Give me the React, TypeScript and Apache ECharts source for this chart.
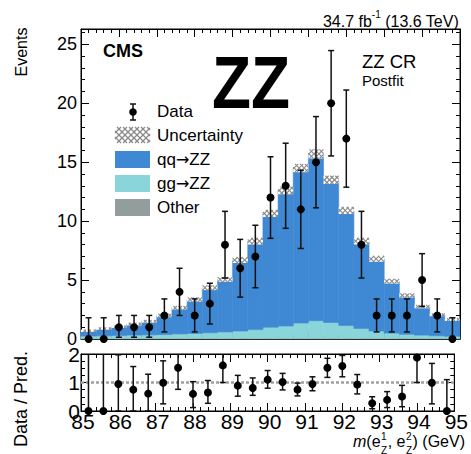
import React, { useEffect, useRef } from "react";
import * as echarts from "echarts";

// ---- data ----
const binCenters = [85.2, 85.6, 86.0, 86.4, 86.8, 87.2, 87.6, 88.0, 88.4, 88.8, 89.2, 89.6, 90.0, 90.4, 90.8, 91.2, 91.6, 92.0, 92.4, 92.8, 93.2, 93.6, 94.0, 94.4, 94.8];
const binHalfWidth = 0.2;
const qqZZ = [0.45, 0.61, 0.74, 0.94, 1.15, 1.62, 2.22, 2.88, 3.82, 4.45, 6.03, 7.5, 9.65, 11.5, 13.15, 14.15, 12.1, 9.75, 7.4, 6.13, 4.4, 3.3, 2.42, 1.78, 1.42];
const ggZZ = [0.2, 0.22, 0.25, 0.28, 0.3, 0.33, 0.38, 0.42, 0.48, 0.55, 0.62, 0.75, 0.95, 1.05, 1.3, 1.5, 1.35, 1.1, 0.85, 0.62, 0.45, 0.35, 0.28, 0.22, 0.18];
const other = [0.05, 0.05, 0.05, 0.05, 0.05, 0.05, 0.05, 0.05, 0.05, 0.05, 0.05, 0.05, 0.05, 0.05, 0.05, 0.05, 0.05, 0.05, 0.05, 0.05, 0.05, 0.05, 0.05, 0.05, 0.05];
const uncertainty = [0.1, 0.1, 0.1, 0.12, 0.12, 0.15, 0.15, 0.18, 0.2, 0.2, 0.25, 0.28, 0.3, 0.32, 0.35, 0.38, 0.35, 0.3, 0.28, 0.25, 0.2, 0.18, 0.15, 0.12, 0.12];
const dataCounts = [0, 0, 1, 1, 1, 2, 4, 2, 3, 8, 6, 7, 12, 13, 11, 15, 20, 17, 8, 2, 2, 2, 5, 2, 0];
const dataLow = [0, 0, 0.15, 0.15, 0.15, 0.6, 2.0, 0.6, 1.27, 5.17, 3.55, 4.35, 8.54, 9.39, 7.68, 11.13, 15.53, 12.88, 5.17, 0.6, 0.6, 0.6, 2.76, 0.6, 0];
const dataHigh = [1.8, 1.8, 2.0, 2.0, 2.0, 3.4, 6.0, 3.4, 4.73, 10.83, 8.45, 9.65, 15.46, 16.61, 14.32, 18.87, 24.47, 21.12, 10.83, 3.4, 3.4, 3.4, 7.24, 3.4, 1.8];
const ratio = [0, 0, 0.95, 0.75, 0.61, 0.99, 1.52, 0.6, 0.65, 1.6, 0.89, 0.81, 1.1, 1.02, 0.75, 0.95, 1.52, 1.58, 0.93, 0.27, 0.39, 0.51, 1.88, 0.99, 0];
const ratioLow = [0, 0, 0, 0, 0, 0.25, 0.76, 0.12, 0.27, 1.0, 0.52, 0.55, 0.8, 0.74, 0.53, 0.71, 1.18, 1.2, 0.6, 0.08, 0.12, 0.15, 1.0, 0.25, 0];
const ratioHigh = [2.6, 2.6, 1.97, 1.56, 1.29, 1.76, 2.28, 1.03, 1.07, 2.15, 1.25, 1.16, 1.42, 1.32, 0.98, 1.2, 1.85, 1.95, 1.28, 0.5, 0.68, 0.9, 2.6, 1.67, 1.1];
const xTicks = { min: 85, max: 95, interval: 1 };
const yMainTicks = { min: 0, max: 26.3, interval: 5 };
const yRatioTicks = { min: 0, max: 2, interval: 1 };

const FONT = '"Liberation Sans", Arial, Helvetica, sans-serif';
const ARROW_FONT = '"DejaVu Sans", sans-serif';
const C_QQ = "#3f88d4";
const C_GG = "#89d5d9";
const C_OTHER = "#939d9c";
const C_HATCH = "#8a8a8a";

function hatchSegments(L: number, T: number, R: number, B: number, step: number) {
  const h = B - T;
  const segs: number[][] = [];
  if (h <= 0 || R <= L) return segs;
  const clip = (xa: number, ya: number, xb: number, yb: number) => {
    const dx = xb - xa;
    let t0 = 0, t1 = 1;
    const ta = (L - xa) / dx, tb = (R - xa) / dx;
    t0 = Math.max(t0, Math.min(ta, tb));
    t1 = Math.min(t1, Math.max(ta, tb));
    if (t1 <= t0) return;
    segs.push([xa + dx * t0, ya + (yb - ya) * t0, xa + dx * t1, ya + (yb - ya) * t1]);
  };
  for (let a = L - h; a <= R; a += step) {
    clip(a, T, a + h, B);
    clip(a + h, T, a, B);
  }
  return segs;
}

let measureCtx: CanvasRenderingContext2D | null = null;
function tw(text: string, size: number, weight = "normal", style = "normal") {
  if (!measureCtx) measureCtx = document.createElement("canvas").getContext("2d");
  if (!measureCtx) return text.length * size * 0.55;
  measureCtx.font = `${style} ${weight} ${size}px ${FONT}`;
  return measureCtx.measureText(text).width;
}

function txt(x: number, y: number, text: string, size: number, extra: any = {}, styleExtra: any = {}) {
  return {
    type: "text",
    x,
    y,
    silent: true,
    ...extra,
    style: {
      text,
      fontSize: size,
      fontFamily: FONT,
      fill: "#000",
      align: "left",
      verticalAlign: "middle",
      ...styleExtra,
    },
  };
}

function arrowLabel(x: number, y: number, a: string, b: string) {
  return txt(x, y, `{t|${a}}{r|\u2192}{t|${b}}`, 17, {}, {
    rich: {
      t: { fontSize: 17, fontFamily: FONT, fill: "#000" },
      r: { fontSize: 16, fontFamily: ARROW_FONT, fill: "#000" },
    },
  });
}

export default function App() {
  const ref = useRef<HTMLDivElement>(null);

  useEffect(() => {
    if (!ref.current) return;
    const chart = echarts.init(ref.current, undefined, { renderer: "svg" });

    const n = binCenters.length;
    const layerOther: number[][] = [];
    const layerGG: number[][] = [];
    const layerQQ: number[][] = [];
    const hatchData: number[][] = [];
    for (let i = 0; i < n; i++) {
      const x0 = binCenters[i] - binHalfWidth;
      const x1 = binCenters[i] + binHalfWidth;
      const b0 = 0;
      const b1 = b0 + other[i];
      const b2 = b1 + ggZZ[i];
      const b3 = b2 + qqZZ[i];
      layerOther.push([x0, x1, b0, b1]);
      layerGG.push([x0, x1, b1, b2]);
      layerQQ.push([x0, x1, b2, b3]);
      hatchData.push([x0, x1, b3 - uncertainty[i], b3 + uncertainty[i]]);
    }
    const mainPoints = binCenters.map((x, i) => [x, dataCounts[i]]);
    const mainErr = binCenters.map((x, i) => [x, dataLow[i], dataHigh[i]]);
    const ratioPoints = binCenters.map((x, i) => [x, ratio[i]]);
    const ratioErr = binCenters.map((x, i) => [x, ratioLow[i], ratioHigh[i]]);

    const histItem = (color: string) => (params: any, api: any) => {
      const p0 = api.coord([api.value(0), api.value(3)]);
      const p1 = api.coord([api.value(1), api.value(2)]);
      return {
        type: "rect",
        shape: { x: p0[0], y: p0[1], width: p1[0] - p0[0], height: p1[1] - p0[1] },
        style: { fill: color, stroke: color, lineWidth: 0.6 },
      };
    };

    const hatchItem = (params: any, api: any) => {
      const p0 = api.coord([api.value(0), api.value(3)]);
      const p1 = api.coord([api.value(1), api.value(2)]);
      const L = p0[0], T = p0[1], R = p1[0], B = p1[1];
      const children: any[] = [
        { type: "rect", shape: { x: L, y: T, width: R - L, height: B - T }, style: { fill: "#ffffff" } },
      ];
      hatchSegments(L, T, R, B, 5).forEach((s) => {
        children.push({
          type: "line",
          shape: { x1: s[0], y1: s[1], x2: s[2], y2: s[3] },
          style: { stroke: C_HATCH, lineWidth: 1.1 },
        });
      });
      return { type: "group", children };
    };

    const errItem = (params: any, api: any) => {
      const x = api.value(0);
      const lo = api.coord([x, api.value(1)]);
      const hi = api.coord([x, api.value(2)]);
      const cap = 3;
      const st = { stroke: "#111", lineWidth: 1.5 };
      return {
        type: "group",
        children: [
          { type: "line", shape: { x1: lo[0], y1: lo[1], x2: hi[0], y2: hi[1] }, style: st },
          { type: "line", shape: { x1: hi[0] - cap, y1: hi[1], x2: hi[0] + cap, y2: hi[1] }, style: st },
          { type: "line", shape: { x1: lo[0] - cap, y1: lo[1], x2: lo[0] + cap, y2: lo[1] }, style: st },
        ],
      };
    };

    const axisLineStyle = { color: "#000", width: 1 };
    const xAxisDef = (gridIndex: number, position: string, showLabel: boolean) => ({
      type: "value",
      gridIndex,
      position,
      min: xTicks.min,
      max: xTicks.max,
      interval: xTicks.interval,
      axisLine: { show: true, onZero: false, lineStyle: axisLineStyle },
      axisTick: { show: true, inside: true, length: 8, lineStyle: axisLineStyle },
      minorTick: { show: true, splitNumber: 5, length: 4, lineStyle: axisLineStyle },
      splitLine: { show: false },
      axisLabel: {
        show: showLabel,
        fontSize: 21,
        color: "#000",
        fontFamily: FONT,
        margin: 0,
        padding: [0, 0, 0, 4],
      },
    });
    const yAxisDef = (gridIndex: number, position: string, showLabel: boolean, t: any, minorSplit: number, labelSize: number, margin: number) => ({
      type: "value",
      gridIndex,
      position,
      min: t.min,
      max: t.max,
      interval: t.interval,
      axisLine: { show: true, onZero: false, lineStyle: axisLineStyle },
      axisTick: { show: true, inside: true, length: 8, lineStyle: axisLineStyle },
      minorTick: { show: true, splitNumber: minorSplit, length: 4, lineStyle: axisLineStyle },
      splitLine: { show: false },
      axisLabel: {
        show: showLabel,
        fontSize: labelSize,
        color: "#000",
        fontFamily: FONT,
        margin,
        showMaxLabel: t.max % t.interval === 0,
        formatter: (v: number) => (Math.abs(v / t.interval - Math.round(v / t.interval)) < 1e-6 ? String(v) : ""),
      },
    });

    // ---- graphic texts ----
    const elements: any[] = [];
    // lumi label
    {
      const main1 = "34.7 fb";
      const sup = "-1";
      const main2 = " (13.6 TeV)";
      const w1 = tw(main1, 16), ws = tw(sup, 10), w2 = tw(main2, 16);
      const right = 459;
      const x0 = right - (w1 + ws + w2);
      elements.push(txt(x0, 21, main1, 16));
      elements.push(txt(x0 + w1, 14, sup, 10));
      elements.push(txt(x0 + w1 + ws, 21, main2, 16));
    }
    // CMS, ZZ, ZZ CR, Postfit
    elements.push(txt(103, 51, "CMS", 18, {}, { fontWeight: "bold" }));
    {
      const w = tw("ZZ", 74, "bold");
      elements.push(txt(212, 82, "ZZ", 74, { scaleX: 78 / w }, { fontWeight: "bold" }));
    }
    elements.push(txt(362, 61, "ZZ CR", 18.5));
    elements.push(txt(362, 80, "Postfit", 15));
    // y axis titles
    elements.push(txt(21, 52, "Events", 16, { rotation: Math.PI / 2 }, { align: "center" }));
    elements.push(txt(21, 399, "Data / Pred.", 18, { rotation: Math.PI / 2 }, { align: "center" }));
    // x axis title
    {
      const s = 16, ss = 10;
      const pieces = [
        { t: "m", w: tw("m", s, "normal", "italic"), italic: true },
        { t: "(e", w: tw("(e", s) },
        { sup: "1", sub: "Z", w: Math.max(tw("1", ss), tw("Z", ss)) + 1 },
        { t: ", e", w: tw(", e", s) },
        { sup: "2", sub: "Z", w: Math.max(tw("2", ss), tw("Z", ss)) + 1 },
        { t: ") (GeV)", w: tw(") (GeV)", s) },
      ];
      const total = pieces.reduce((a, p: any) => a + p.w, 0);
      let x = 465 - total;
      pieces.forEach((p: any) => {
        if (p.t) {
          elements.push(txt(x, 441, p.t, s, {}, p.italic ? { fontStyle: "italic" } : {}));
        } else {
          elements.push(txt(x + 0.5, 436, p.sup, ss));
          elements.push(txt(x + 0.5, 450, p.sub, ss));
        }
        x += p.w;
      });
    }
    // legend
    {
      const tx = 157;
      const sx0 = 115, sx1 = 150;
      // Data marker
      elements.push({ type: "line", silent: true, shape: { x1: 133, y1: 104, x2: 133, y2: 120 }, style: { stroke: "#111", lineWidth: 1.5 } });
      elements.push({ type: "line", silent: true, shape: { x1: 130, y1: 104, x2: 136, y2: 104 }, style: { stroke: "#111", lineWidth: 1.5 } });
      elements.push({ type: "line", silent: true, shape: { x1: 130, y1: 120, x2: 136, y2: 120 }, style: { stroke: "#111", lineWidth: 1.5 } });
      elements.push({ type: "circle", silent: true, shape: { cx: 133, cy: 112, r: 3.8 }, style: { fill: "#000" } });
      elements.push(txt(tx, 111, "Data", 17));
      // Uncertainty swatch
      hatchSegments(sx0, 127, sx1, 143, 6).forEach((sg) => {
        elements.push({ type: "line", silent: true, shape: { x1: sg[0], y1: sg[1], x2: sg[2], y2: sg[3] }, style: { stroke: C_HATCH, lineWidth: 1.3 } });
      });
      elements.push(txt(tx, 135, "Uncertainty", 17));
      elements.push({ type: "rect", silent: true, shape: { x: sx0, y: 151, width: sx1 - sx0, height: 17 }, style: { fill: C_QQ } });
      elements.push(arrowLabel(tx, 159, "qq", "ZZ"));
      elements.push({ type: "rect", silent: true, shape: { x: sx0, y: 175, width: sx1 - sx0, height: 17 }, style: { fill: C_GG } });
      elements.push(arrowLabel(tx, 183, "gg", "ZZ"));
      elements.push({ type: "rect", silent: true, shape: { x: sx0, y: 199, width: sx1 - sx0, height: 17 }, style: { fill: C_OTHER } });
      elements.push(txt(tx, 207, "Other", 17));
    }

    const option: any = {
      animation: false,
      backgroundColor: "#ffffff",
      textStyle: { fontFamily: FONT },
      grid: [
        { left: 81, top: 29, width: 379, height: 310, show: true, borderColor: "#000", borderWidth: 1, containLabel: false },
        { left: 81, top: 354, width: 379, height: 57, show: true, borderColor: "#000", borderWidth: 1, containLabel: false },
      ],
      xAxis: [
        xAxisDef(0, "bottom", false),
        xAxisDef(0, "top", false),
        xAxisDef(1, "bottom", true),
        xAxisDef(1, "top", false),
      ],
      yAxis: [
        yAxisDef(0, "left", true, yMainTicks, 5, 18, 4),
        yAxisDef(0, "right", false, yMainTicks, 5, 18, 4),
        yAxisDef(1, "left", true, yRatioTicks, 4, 21, 1),
        yAxisDef(1, "right", false, yRatioTicks, 4, 21, 1),
      ],
      series: [
        { name: "Other", type: "custom", xAxisIndex: 0, yAxisIndex: 0, data: layerOther, renderItem: histItem(C_OTHER), z: 2 },
        { name: "gg->ZZ", type: "custom", xAxisIndex: 0, yAxisIndex: 0, data: layerGG, renderItem: histItem(C_GG), z: 2 },
        { name: "qq->ZZ", type: "custom", xAxisIndex: 0, yAxisIndex: 0, data: layerQQ, renderItem: histItem(C_QQ), z: 2 },
        { name: "Uncertainty", type: "custom", xAxisIndex: 0, yAxisIndex: 0, data: hatchData, renderItem: hatchItem, z: 3 },
        { name: "DataErr", type: "custom", xAxisIndex: 0, yAxisIndex: 0, data: mainErr, renderItem: errItem, z: 4 },
        { name: "Data", type: "scatter", xAxisIndex: 0, yAxisIndex: 0, data: mainPoints, symbol: "circle", symbolSize: 8, itemStyle: { color: "#000", opacity: 1 }, z: 5, clip: false },
        {
          name: "RatioBand", type: "line", xAxisIndex: 2, yAxisIndex: 2,
          data: [[85, 1], [95, 1]], symbol: "none",
          lineStyle: { color: "#a0a0a0", width: 2.5, type: [3, 2] }, z: 2,
        },
        { name: "RatioErr", type: "custom", xAxisIndex: 2, yAxisIndex: 2, data: ratioErr, renderItem: errItem, z: 4, clip: true },
        { name: "Ratio", type: "scatter", xAxisIndex: 2, yAxisIndex: 2, data: ratioPoints, symbol: "circle", symbolSize: 8, itemStyle: { color: "#000", opacity: 1 }, z: 5, clip: false },
      ],
      graphic: { elements },
    };

    chart.setOption(option);
    return () => chart.dispose();
  }, []);

  return (
    <div
      ref={ref}
      style={{ position: "fixed", left: 0, top: 0, width: 471, height: 454, background: "#fff" }}
    />
  );
}
